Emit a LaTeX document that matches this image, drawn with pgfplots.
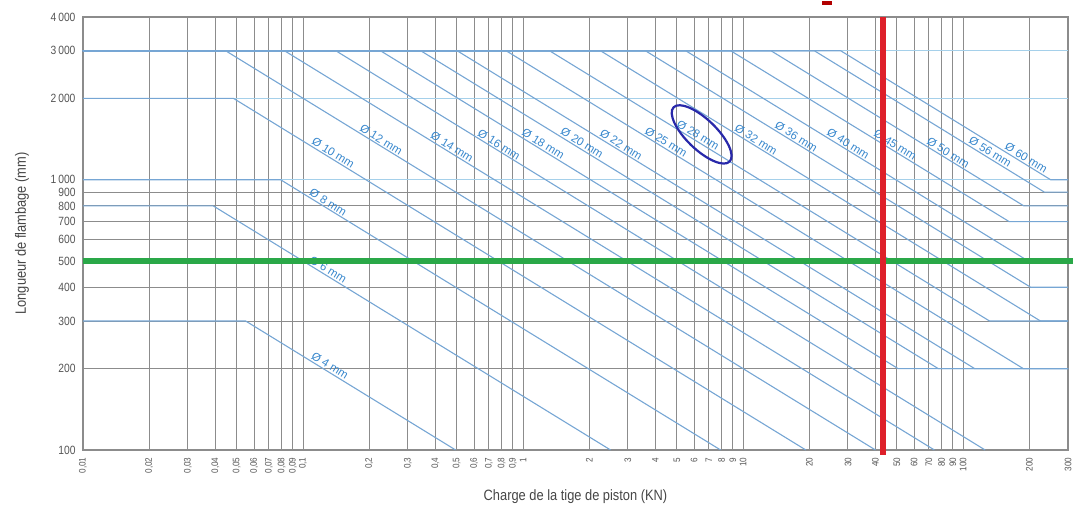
\documentclass[border=0pt]{standalone}
\usepackage{fontspec}
\setmainfont{Liberation Sans}[FakeStretch=0.86]
\newfontfamily\labfont{Liberation Sans}
\usepackage{pgfplots}
\pgfplotsset{compat=1.18}
\usetikzlibrary{calc}
\definecolor{gridgray}{RGB}{140,140,140}
\definecolor{lineblue}{RGB}{118,166,212}
\definecolor{hblue}{RGB}{165,208,234}
\definecolor{labblue}{RGB}{55,135,205}
\definecolor{ticktext}{RGB}{85,85,85}
\definecolor{axtext}{RGB}{70,70,70}
\definecolor{redl}{RGB}{222,32,42}
\definecolor{greenl}{RGB}{42,168,72}
\definecolor{ovalblue}{RGB}{40,40,170}
\tikzset{
  curve/.style={lineblue, line width=1.1bp},
  hline/.style={hblue, line width=1.4bp},
  lab/.style={font=\labfont\fontsize{11.5}{12}\selectfont, text=labblue, rotate=-31.6, anchor=south, inner sep=1.5bp},
}
\begin{document}
\begin{tikzpicture}
\path[use as bounding box] (-83bp,-61bp) rectangle (990bp,450bp);
\begin{axis}[
  at={(0,0)}, anchor=south west,
  scale only axis, width=985bp, height=433bp,
  xmode=log, ymode=log,
  xmin=0.01, xmax=300, ymin=100, ymax=4000,
  xtick={0.01,0.02,0.03,0.04,0.05,0.06,0.07,0.08,0.09,0.1,0.2,0.3,0.4,0.5,0.6,0.7,0.8,0.9,1,2,3,4,5,6,7,8,9,10,20,30,40,50,60,70,80,90,100,200,300},
  xticklabels={{0,01},{0,02},{0,03},{0,04},{0,05},{0,06},{0,07},{0,08},{0,09},{0,1},{0,2},{0,3},{0,4},{0,5},{0,6},{0,7},{0,8},{0,9},1,2,3,4,5,6,7,8,9,10,20,30,40,50,60,70,80,90,100,200,300},
  ytick={100,200,300,400,500,600,700,800,900,1000,2000,3000,4000},
  yticklabels={100,200,300,400,500,600,700,800,900,1\,000,2\,000,3\,000,4\,000},
  xmajorgrids, ymajorgrids,
  grid style={gridgray, line width=1bp},
  major tick length=0pt,
  axis line style={gridgray, line width=1.2bp},
  xticklabel style={rotate=90, anchor=east, font=\fontsize{9.5}{10}\selectfont, text=ticktext},
  xticklabel shift=4bp,
  yticklabel style={font=\fontsize{12}{12}\selectfont, text=ticktext},
  yticklabel shift=4bp,
  xlabel={Charge de la tige de piston (KN)},
  ylabel={Longueur de flambage (mm)},
  xlabel style={at={(axis description cs:0.5,-0.1085)}, anchor=center, font=\fontsize{15}{15}\selectfont, text=axtext},
  ylabel style={at={(axis description cs:-0.0619,0.5)}, anchor=center, font=\fontsize{15}{15}\selectfont, text=axtext},
  clip=false,
]
% light blue full-width horizontals
\addplot[hline, no marks] coordinates {(0.01,3000) (300,3000)};
\addplot[hline, no marks] coordinates {(0.01,2000) (300,2000)};
\addplot[hline, no marks] coordinates {(0.01,1000) (300,1000)};
% buckling curves (diameter)
\addplot[curve, no marks] coordinates {(0.01,300) (0.0549,300) (0.494,100)};   % 4
\addplot[curve, no marks] coordinates {(0.01,800) (0.0391,800) (2.50,100)};    % 6
\addplot[curve, no marks] coordinates {(0.01,1000) (0.0791,1000) (7.91,100)};  % 8
\addplot[curve, no marks] coordinates {(0.01,2000) (0.0483,2000) (19.3,100)};  % 10
\addplot[curve, no marks] coordinates {(0.01,3000) (0.0445,3000) (40.0,100)};  % 12
\addplot[curve, no marks] coordinates {(0.01,3000) (0.0824,3000) (74.1,100)};  % 14
\addplot[curve, no marks] coordinates {(0.01,3000) (0.141,3000) (126,100)};    % 16
\addplot[curve, no marks] coordinates {(0.01,3000) (0.225,3000) (50.7,200) (300,200)}; % 18
\addplot[curve, no marks] coordinates {(0.01,3000) (0.343,3000) (77.2,200) (300,200)}; % 20
\addplot[curve, no marks] coordinates {(0.01,3000) (0.502,3000) (113,200) (300,200)};  % 22
\addplot[curve, no marks] coordinates {(0.01,3000) (0.838,3000) (188,200) (300,200)};  % 25
\addplot[curve, no marks] coordinates {(0.01,3000) (1.32,3000) (132,300) (300,300)};   % 28
\addplot[curve, no marks] coordinates {(0.01,3000) (2.25,3000) (225,300) (300,300)};   % 32
\addplot[curve, no marks] coordinates {(0.01,3000) (3.60,3000) (203,400) (300,400)};   % 36
\addplot[curve, no marks] coordinates {(0.01,3000) (5.49,3000) (198,500) (300,500)};   % 40
\addplot[curve, no marks] coordinates {(0.01,3000) (8.79,3000) (162,700) (300,700)};   % 45
\addplot[curve, no marks] coordinates {(0.01,3000) (13.4,3000) (189,800) (300,800)};   % 50
\addplot[curve, no marks] coordinates {(0.01,3000) (21.1,3000) (234,900) (300,900)};   % 56
\addplot[curve, no marks] coordinates {(0.01,3000) (27.8,3000) (250,1000) (300,1000)}; % 60
% labels
\node[lab] at (axis cs:0.1285,196) {Ø 4 mm};
\node[lab] at (axis cs:0.1259,446) {Ø 6 mm};
\node[lab] at (axis cs:0.1259,792) {Ø 8 mm};
\node[lab] at (axis cs:0.1327,1206) {Ø 10 mm};
\node[lab] at (axis cs:0.2193,1351) {Ø 12 mm};
\node[lab] at (axis cs:0.4609,1268) {Ø 14 mm};
\node[lab] at (axis cs:0.754,1295) {Ø 16 mm};
\node[lab] at (axis cs:1.195,1302) {Ø 18 mm};
\node[lab] at (axis cs:1.797,1311) {Ø 20 mm};
\node[lab] at (axis cs:2.703,1293) {Ø 22 mm};
\node[lab] at (axis cs:4.329,1320) {Ø 25 mm};
\node[lab] (lab28) at (axis cs:6.05,1400) {Ø 28 mm};
\node[lab] at (axis cs:11.10,1350) {Ø 32 mm};
\node[lab] at (axis cs:16.88,1386) {Ø 36 mm};
\node[lab] at (axis cs:29.08,1303) {Ø 40 mm};
\node[lab] at (axis cs:47.59,1290) {Ø 45 mm};
\node[lab] at (axis cs:82.84,1207) {Ø 50 mm};
\node[lab] at (axis cs:128.6,1215) {Ø 56 mm};
\node[lab] at (axis cs:187.4,1155) {Ø 60 mm};
% markers
\addplot[greenl, line width=5.5bp, no marks] coordinates {(0.01,500) (316,500)};
\addplot[redl, line width=5.5bp, no marks] coordinates {(43.3,96) (43.3,4000)};
\end{axis}
\draw[ovalblue, line width=2.2bp, rotate around={-44:($(lab28.center)+(2bp,3bp)$)}] ($(lab28.center)+(2bp,3bp)$) ellipse [x radius=39bp, y radius=15bp];
\fill[red!70!black] (739bp,445bp) rectangle (749bp,449bp);
\end{tikzpicture}
\end{document}
